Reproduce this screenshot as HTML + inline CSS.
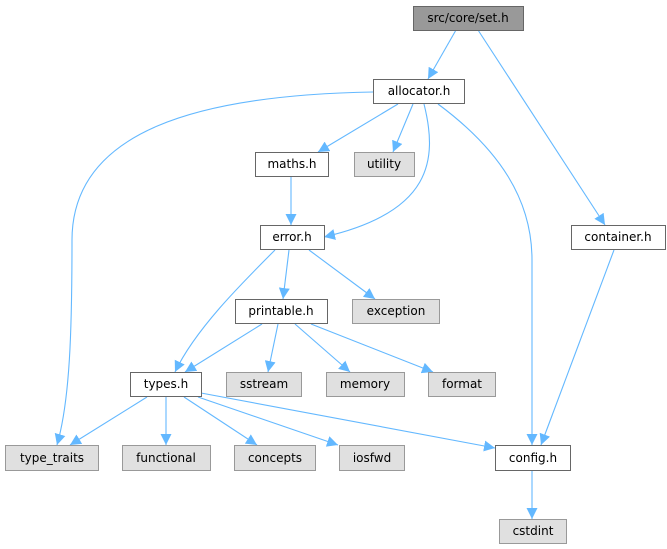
<!DOCTYPE html>
<html><head><meta charset="utf-8"><style>
html,body{margin:0;padding:0;background:#fff;}
svg{display:block;}
text{font-family:"DejaVu Sans","Liberation Sans",sans-serif;font-size:12px;fill:#000;text-anchor:middle;}
</style></head><body>
<svg width="667" height="549" viewBox="0 0 667 549" xmlns="http://www.w3.org/2000/svg">
<defs>
<marker id="a" markerWidth="12" markerHeight="11" refX="11" refY="5.5" orient="auto" markerUnits="userSpaceOnUse">
<path d="M0,0 L11,5.5 L0,11 z" fill="#63b8ff"/>
</marker>
</defs>
<g fill="none" stroke="#63b8ff" stroke-width="1.1" marker-end="url(#a)">
<path d="M456,30 L428,79"/>
<path d="M478,30 L605,225"/>
<path d="M373,92 C200,95 72,130 72,240 C72,330 70,400 57,445"/>
<path d="M398,104 L318,152"/>
<path d="M413,104 L393,152"/>
<path d="M424,104 C438,160 432,212 324,237"/>
<path d="M438,104 C500,150 532,200 532,260 L532,445"/>
<path d="M291,177 L291,225"/>
<path d="M614,250 L541,445"/>
<path d="M275,250 C240,285 195,330 175,372"/>
<path d="M289,250 L283,299"/>
<path d="M309,250 L375,299"/>
<path d="M262,324 L185,372"/>
<path d="M278,324 L268,372"/>
<path d="M295,324 L350,372"/>
<path d="M311,324 L433,372"/>
<path d="M147,397 L70,445"/>
<path d="M166,397 L166,445"/>
<path d="M184,397 L257,445"/>
<path d="M198,397 L338,445"/>
<path d="M201,393 L495,448"/>
<path d="M532,471 L532,519"/>
</g>
<g stroke-width="1">
<rect x="413.5" y="6.5" width="110" height="24" fill="#999" stroke="#666"/>
<rect x="373.5" y="79.5" width="91" height="24" fill="#fff" stroke="#666"/>
<rect x="255.5" y="152.5" width="73" height="24" fill="#fff" stroke="#666"/>
<rect x="354.5" y="152.5" width="60" height="24" fill="#e0e0e0" stroke="#999"/>
<rect x="260.5" y="225.5" width="64" height="24" fill="#fff" stroke="#666"/>
<rect x="571.5" y="225.5" width="94" height="24" fill="#fff" stroke="#666"/>
<rect x="235.5" y="299.5" width="92" height="24" fill="#fff" stroke="#666"/>
<rect x="352.5" y="299.5" width="87" height="24" fill="#e0e0e0" stroke="#999"/>
<rect x="130.5" y="372.5" width="71" height="24" fill="#fff" stroke="#666"/>
<rect x="226.5" y="372.5" width="75" height="24" fill="#e0e0e0" stroke="#999"/>
<rect x="326.5" y="372.5" width="78" height="24" fill="#e0e0e0" stroke="#999"/>
<rect x="428.5" y="372.5" width="67" height="24" fill="#e0e0e0" stroke="#999"/>
<rect x="5.5" y="445.5" width="93" height="25" fill="#e0e0e0" stroke="#999"/>
<rect x="122.5" y="445.5" width="88" height="25" fill="#e0e0e0" stroke="#999"/>
<rect x="234.5" y="445.5" width="81" height="25" fill="#e0e0e0" stroke="#999"/>
<rect x="339.5" y="445.5" width="65" height="25" fill="#e0e0e0" stroke="#999"/>
<rect x="495.5" y="445.5" width="75" height="25" fill="#fff" stroke="#666"/>
<rect x="499.5" y="519.5" width="67" height="24" fill="#e0e0e0" stroke="#999"/>
</g>
<text x="468" y="22">src/core/set.h</text>
<text x="419" y="95">allocator.h</text>
<text x="292" y="168">maths.h</text>
<text x="384" y="168">utility</text>
<text x="292" y="241">error.h</text>
<text x="618" y="241">container.h</text>
<text x="281" y="315">printable.h</text>
<text x="396" y="315">exception</text>
<text x="166" y="388">types.h</text>
<text x="264" y="388">sstream</text>
<text x="365" y="388">memory</text>
<text x="462" y="388">format</text>
<text x="52" y="462">type_traits</text>
<text x="166" y="462">functional</text>
<text x="275" y="462">concepts</text>
<text x="372" y="462">iosfwd</text>
<text x="533" y="462">config.h</text>
<text x="533" y="535">cstdint</text>
</svg>
</body></html>
